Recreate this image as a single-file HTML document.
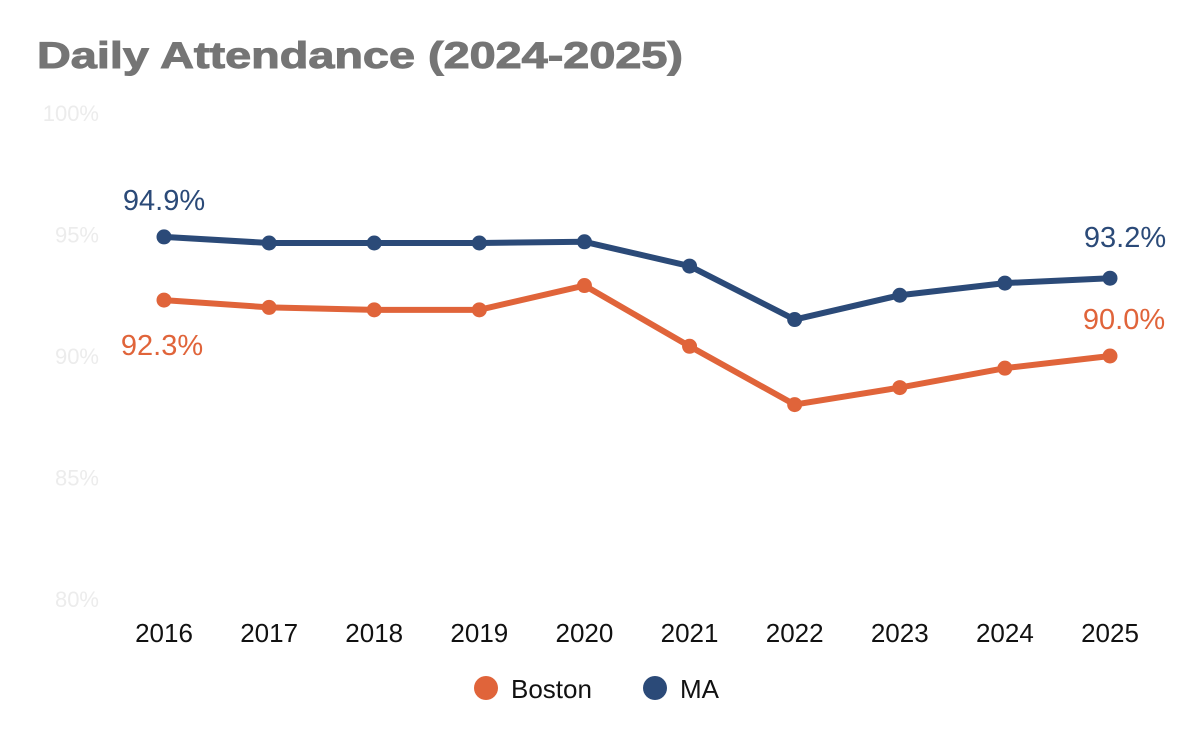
<!DOCTYPE html>
<html><head><meta charset="utf-8"><style>
html,body{margin:0;padding:0;background:#fff;}
svg{display:block;font-family:"Liberation Sans",sans-serif;}
</style></head><body>
<svg id="chart" width="1200" height="742">
<text x="37" y="68" font-size="37" font-weight="bold" fill="#757575" textLength="646" lengthAdjust="spacingAndGlyphs" stroke="#757575" stroke-width="1">Daily Attendance (2024-2025)</text>
<g id="yaxis"></g>
<g id="xaxis"></g>
<g id="series"></g>
<g>
<g>
<circle cx="486" cy="688" r="12" fill="#E0643A"/>
<text x="511" y="698" font-size="26" fill="#111">Boston</text></g>
<g>
<circle cx="655" cy="688" r="12" fill="#2B4A78"/>
<text x="680" y="698" font-size="26" fill="#111">MA</text></g>
</g>
</svg>
<script>
const years = ["2016","2017","2018","2019","2020","2021","2022","2023","2024","2025"];
const boston = [92.3,92.0,91.9,91.9,92.9,90.4,88.0,88.7,89.5,90.0];
const ma = [94.9,94.65,94.65,94.65,94.7,93.7,91.5,92.5,93.0,93.2];
const yTicks = [80,85,90,95,100];
const ns="http://www.w3.org/2000/svg";
function y(v){return 599-(v-80)*(599-113)/20;}
function x(i){return 164+i*(1110-164)/9;}
function mk(t,a,p){const e=document.createElementNS(ns,t);for(const k in a)e.setAttribute(k,a[k]);p.appendChild(e);return e;}
const ya=document.getElementById('yaxis'),xa=document.getElementById('xaxis'),sg=document.getElementById('series');
yTicks.forEach(t=>{const e=mk('text',{x:99,y:y(t)+8,'text-anchor':'end','font-size':22,fill:'#ececec'},ya);e.textContent=t+'%';

});
years.forEach((yr,i)=>{const e=mk('text',{x:x(i),y:642,'text-anchor':'middle','font-size':26,fill:'#111'},xa);e.textContent=yr;

});
function draw(vals,color,name){
 const g=mk('g',{},sg);
 
 
 mk('polyline',{points:vals.map((v,i)=>x(i)+','+y(v)).join(' '),fill:'none',stroke:color,'stroke-width':6,'stroke-linejoin':'round'},g);
 vals.forEach((v,i)=>{const c=mk('circle',{cx:x(i),cy:y(v),r:7.5,fill:color},g);
 
 });
}
draw(boston,'#E0643A','boston');
draw(ma,'#2B4A78','ma');
function lab(txt,xx,yy,color){const e=mk('text',{x:xx,y:yy,'text-anchor':'middle','font-size':29,fill:color},sg);e.textContent=txt;

}
lab(ma[0].toFixed(1)+'%',x(0),y(ma[0])-27,'#2B4A78');
lab(boston[0].toFixed(1)+'%',x(0)-2,y(boston[0])+55,'#E0643A');
lab(ma[9].toFixed(1)+'%',x(9)+15,y(ma[9])-31,'#2B4A78');
lab(boston[9].toFixed(1)+'%',x(9)+14,y(boston[9])-27,'#E0643A');
</script>
</body></html>
